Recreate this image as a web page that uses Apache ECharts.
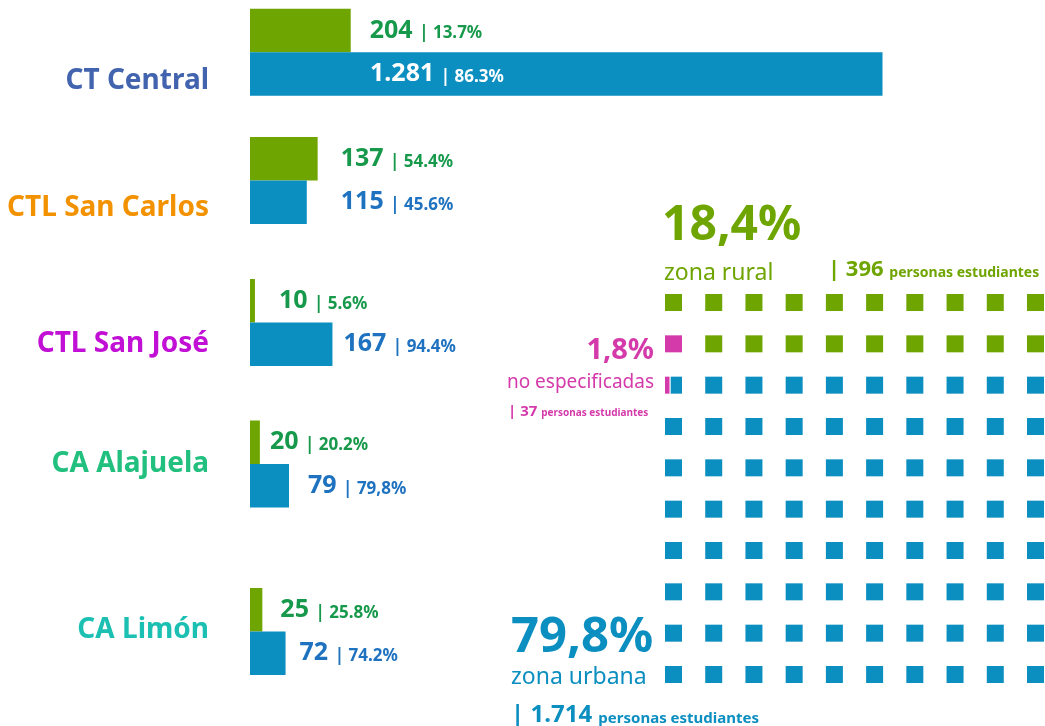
<!DOCTYPE html>
<html>
<head>
<meta charset="utf-8">
<script src="https://cdn.jsdelivr.net/npm/echarts@6/dist/echarts.min.js"></script>
<style>
  html, body { margin: 0; padding: 0; background: #fff; }
  #chart { width: 1045px; height: 726px; }
</style>
</head>
<body>
<div id="chart"></div>
<script>
// data: students per school, rural vs urban
const categories = ["CT Central", "CTL San Carlos", "CTL San José", "CA Alajuela", "CA Limón"];
const ruralValues = [204, 137, 10, 20, 25];
const urbanValues = [1281, 115, 167, 79, 72];
const ruralPct = ["13.7%", "54.4%", "5.6%", "20.2%", "25.8%"];
const urbanPct = ["86.3%", "45.6%", "94.4%", "79,8%", "74.2%"];

// waffle: rural, not specified, urban
const zoneNames = ["zona rural", "no especificadas", "zona urbana"];
const zonePct = ["18,4%", "1,8%", "79,8%"];
const zoneStudents = ["396", "37", "1.714"];
const zoneCells = [19, 1.3, 79.7]; // cells out of 100 as drawn

// layout / style
const FONT = "Noto Sans";
const GREEN = "#6fa500", BLUE = "#0b8ec0", MAGENTA = "#d43aaa";
const GREEN_TXT = "#17994b", BLUE_TXT = "#1e72bf";
const nameColors = ["#4264ae", "#f39200", "#c20fd5", "#22c07f", "#1cc0b3"];
const groupTop = [8.7, 137, 279, 420.5, 588];
const nameY = [81, 208, 344, 464.5, 630];
const ruralGap = [19, 23, 24, 10, 18];
const urbanGap = [120, 34, 11, 19, 14];
const BAR_H = 43.5;
const zoneColors = [GREEN, MAGENTA, BLUE];

var myChart = echarts.init(document.getElementById("chart"));

function fmt(v) {
  return String(v).replace(/\B(?=(\d{3})+(?!\d))/g, ".");
}

function valueLabel(v, pct, color, position, distance) {
  return {
    show: true,
    position: position,
    distance: distance,
    formatter: "{n|" + fmt(v) + " }{p|| " + pct + "}",
    rich: {
      n: { fontFamily: FONT, fontSize: 25, fontWeight: "bold", color: color, verticalAlign: "bottom" },
      p: { fontFamily: FONT, fontSize: 17, fontWeight: "bold", color: color, verticalAlign: "bottom", padding: [0, 0, 1, 0] }
    }
  };
}

var grids = [], xAxes = [], yAxes = [], series = [];
categories.forEach(function (name, i) {
  grids.push({ left: 250, top: groupTop[i], width: 790, height: BAR_H * 2 });
  xAxes.push({ type: "value", gridIndex: i, min: 0, max: 1600, show: false });
  yAxes.push({ type: "category", gridIndex: i, data: ["rural", "urbana"], inverse: true, show: false });
  var urbanInside = i === 0;
  series.push({
    type: "bar",
    name: name,
    xAxisIndex: i,
    yAxisIndex: i,
    barCategoryGap: "0%",
    silent: true,
    data: [
      { value: ruralValues[i], itemStyle: { color: GREEN },
        label: valueLabel(ruralValues[i], ruralPct[i], GREEN_TXT, "right", ruralGap[i]) },
      { value: urbanValues[i], itemStyle: { color: BLUE },
        label: valueLabel(urbanValues[i], urbanPct[i], urbanInside ? "#ffffff" : BLUE_TXT,
          urbanInside ? "insideLeft" : "right", urbanGap[i]) }
    ]
  });
});

// waffle grid 10x10, filled snake-wise from bottom-left: urban, not specified, rural
grids.push({ left: 673.5, top: 302.5, width: 362, height: 372 });
xAxes.push({ type: "value", gridIndex: 5, min: 0, max: 9, show: false });
yAxes.push({ type: "value", gridIndex: 5, min: 0, max: 9, inverse: true, show: false });

var order = [];
for (var r = 9; r >= 0; r--) {
  var ltr = (9 - r) % 2 === 0;
  for (var c = 0; c < 10; c++) order.push([ltr ? c : 9 - c, r, ltr ? 1 : 0]);
}
var cells = [];
var pos = 0;
[2, 1, 0].forEach(function (z) {
  var start = pos, end = pos + zoneCells[z];
  for (var j = Math.floor(start); j < Math.ceil(end - 1e-6) && j < 100; j++) {
    var f0 = Math.max(start, j) - j, f1 = Math.min(end, j + 1) - j;
    if (f1 - f0 > 0.01) cells.push([order[j][0], order[j][1], f0, f1, order[j][2], z]);
  }
  pos = end;
});

series.push({
  type: "custom",
  xAxisIndex: 5,
  yAxisIndex: 5,
  silent: true,
  data: cells,
  renderItem: function (params, api) {
    var p = api.coord([api.value(0), api.value(1)]);
    var s = 17;
    var f0 = api.value(2), f1 = api.value(3), dir = api.value(4);
    var l = dir ? f0 : 1 - f1, rr = dir ? f1 : 1 - f0;
    var x0 = p[0] - s / 2 + l * s, x1 = p[0] - s / 2 + rr * s;
    if (l > 0.001) x0 += 0.6;
    if (rr < 0.999) x1 -= 0.6;
    return {
      type: "rect",
      shape: { x: x0, y: p[1] - s / 2, width: x1 - x0, height: s },
      style: { fill: zoneColors[api.value(5)] }
    };
  }
});

// text blocks
var graphic = [];
categories.forEach(function (name, i) {
  graphic.push({
    type: "text", x: 209, y: nameY[i],
    style: { text: name, fill: nameColors[i], font: "bold 28px '" + FONT + "'", align: "right", verticalAlign: "middle" }
  });
});

function studentsRich(n, color, big, small) {
  return {
    text: "{b|| " + n + " }{s|personas estudiantes}",
    rich: {
      b: { fontFamily: FONT, fontWeight: "bold", fontSize: big, fill: color, verticalAlign: "bottom" },
      s: { fontFamily: FONT, fontWeight: "bold", fontSize: small, fill: color, verticalAlign: "bottom", padding: [0, 0, 1, 0] }
    }
  };
}

// rural
graphic.push({ type: "text", x: 662, y: 226,
  style: { text: zonePct[0], fill: GREEN, font: "bold 48px '" + FONT + "'", align: "left", verticalAlign: "middle" } });
graphic.push({ type: "text", x: 664, y: 273,
  style: { text: zoneNames[0], fill: GREEN, font: "23px '" + FONT + "'", align: "left", verticalAlign: "middle" } });
graphic.push({ type: "text", x: 828, y: 270,
  style: Object.assign({ align: "left", verticalAlign: "middle" }, studentsRich(zoneStudents[0], GREEN, 22, 14)) });

// not specified
graphic.push({ type: "text", x: 654, y: 351,
  style: { text: zonePct[1], fill: MAGENTA, font: "bold 29px '" + FONT + "'", align: "right", verticalAlign: "middle" } });
graphic.push({ type: "text", x: 654, y: 383,
  style: { text: zoneNames[1], fill: MAGENTA, font: "19px '" + FONT + "'", align: "right", verticalAlign: "middle" } });
graphic.push({ type: "text", x: 508, y: 412,
  style: Object.assign({ align: "left", verticalAlign: "middle" }, studentsRich(zoneStudents[1], MAGENTA, 15, 10)) });

// urban
graphic.push({ type: "text", x: 511, y: 638,
  style: { text: zonePct[2], fill: BLUE, font: "bold 49px '" + FONT + "'", align: "left", verticalAlign: "middle" } });
graphic.push({ type: "text", x: 511, y: 677,
  style: { text: zoneNames[2], fill: BLUE, font: "23px '" + FONT + "'", align: "left", verticalAlign: "middle" } });
graphic.push({ type: "text", x: 511, y: 715,
  style: Object.assign({ align: "left", verticalAlign: "middle" }, studentsRich(zoneStudents[2], BLUE, 24, 15)) });

var option = {
  animation: false,
  backgroundColor: "#ffffff",
  grid: grids,
  xAxis: xAxes,
  yAxis: yAxes,
  series: series,
  graphic: graphic
};

myChart.setOption(option);
</script>
</body>
</html>
